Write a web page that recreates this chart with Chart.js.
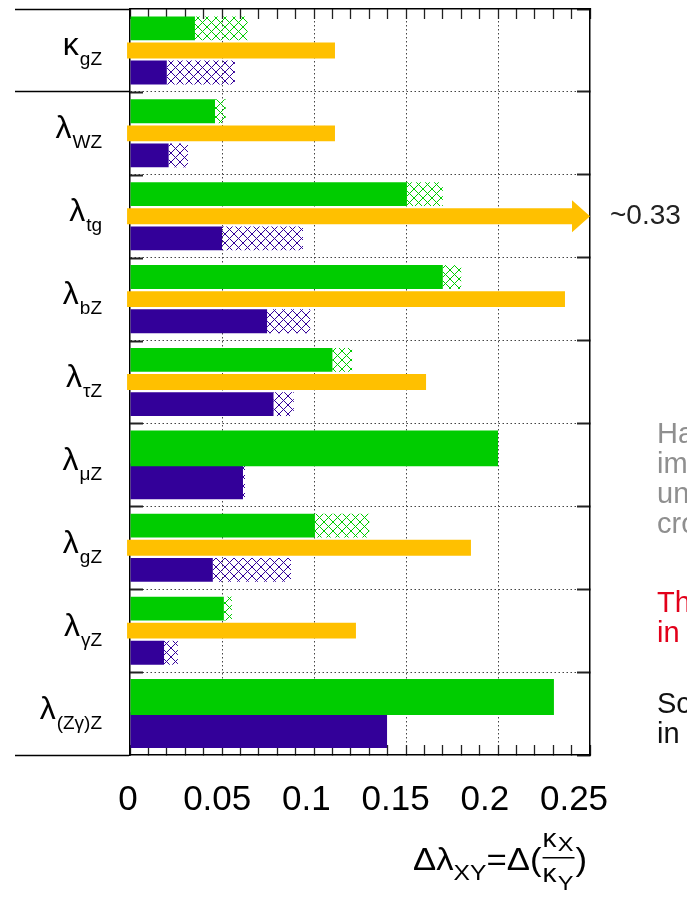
<!DOCTYPE html>
<html>
<head>
<meta charset="utf-8">
<script src="https://cdn.jsdelivr.net/npm/chart.js@4.4.0/dist/chart.umd.min.js"></script>
<style>
  html, body { margin: 0; padding: 0; background: #fff; overflow: hidden; }
  #wrap { position: relative; width: 687px; height: 898px; overflow: hidden; }
  #chart { display: block; }
  .note { position: absolute; left: 657px; font-family: 'Liberation Sans', Arial, sans-serif;
          font-size: 29px; line-height: 30px; white-space: nowrap; }
</style>
</head>
<body>
<div id="wrap">
  <canvas id="chart" width="687" height="898"></canvas>
  <div class="note" style="top: 418px; color: #8f8f8f;">Having<br>improved<br>uncertainties<br>cross sections</div>
  <div class="note" style="top: 587px; color: #e2001a;">The<br>in some</div>
  <div class="note" style="top: 688px; color: #111;">Scale<br>in ratios</div>
</div>
<script>
const categories = ['κgZ', 'λWZ', 'λtg', 'λbZ', 'λτZ', 'λμZ', 'λgZ', 'λγZ', 'λ(Zγ)Z'];
const labelMain = ['κ', 'λ', 'λ', 'λ', 'λ', 'λ', 'λ', 'λ', 'λ'];
const labelSub = ['gZ', 'WZ', 'tg', 'bZ', 'τZ', 'μZ', 'gZ', 'γZ', '(Zγ)Z'];

// green: solid part and full length (hatched up to full)
const greenSolid = [0.0353, 0.0462, 0.1505, 0.170, 0.110, 0.200, 0.1005, 0.051, 0.2304];
const greenFull = [0.064, 0.052, 0.170, 0.180, 0.1207, 0.200, 0.130, 0.0554, 0.2304];
// orange: one value per row, null where there is no bar
const orangeVals = [0.1114, 0.1114, 0.33, 0.2364, 0.1609, null, 0.1853, 0.1228, null];
// purple: solid part and full length
const purpleSolid = [0.020, 0.021, 0.050, 0.0745, 0.078, 0.0614, 0.045, 0.0185, 0.1397];
const purpleFull = [0.057, 0.0315, 0.094, 0.098, 0.089, 0.0625, 0.0875, 0.026, 0.1397];

const xMajorTicks = [0, 0.05, 0.1, 0.15, 0.2, 0.25];
const xTickLabels = ['0', '0.05', '0.1', '0.15', '0.2', '0.25'];
const xMinorTicks = [0, 0.01, 0.02, 0.03, 0.04, 0.05, 0.06, 0.07, 0.08, 0.09, 0.1, 0.11, 0.12,
  0.13, 0.14, 0.15, 0.16, 0.17, 0.18, 0.19, 0.2, 0.21, 0.22, 0.23, 0.24, 0.25];
const arrowLabel = '~0.33';

const FONT = "'Liberation Sans', Arial, Helvetica, sans-serif";
const GREEN = '#00cc00', ORANGE = '#ffc000', PURPLE = '#330099';

function hatch(color) {
  const s = 9;
  const c = document.createElement('canvas');
  c.width = s; c.height = s;
  const g = c.getContext('2d');
  g.strokeStyle = color;
  g.lineWidth = 1;
  g.beginPath();
  for (let k = -1; k <= 1; k++) {
    g.moveTo(k * s - 1, -1); g.lineTo(k * s + s + 1, s + 1);
    g.moveTo(k * s + s + 1, -1); g.lineTo(k * s - 1, s + 1);
  }
  g.stroke();
  return g.createPattern(c, 'repeat');
}

const rowLabels = {
  id: 'rowLabels',
  afterDraw(chart) {
    const ctx = chart.ctx, y = chart.scales.y, area = chart.chartArea;
    ctx.save();
    // short ticks inside the left axis at row boundaries
    ctx.strokeStyle = '#222';
    ctx.lineWidth = 2;
    for (let i = 1; i < categories.length; i++) {
      const py = Math.round((y.getPixelForValue(i - 1) + y.getPixelForValue(i)) / 2) + 0.5;
      ctx.beginPath();
      ctx.moveTo(area.left, py);
      ctx.lineTo(area.left + 13, py);
      ctx.stroke();
    }
    ctx.fillStyle = '#000';
    ctx.textBaseline = 'alphabetic';
    categories.forEach((c, i) => {
      const py = y.getPixelForValue(i);
      ctx.font = '32px ' + FONT;
      const wm = ctx.measureText(labelMain[i]).width;
      ctx.font = '19px ' + FONT;
      const ws = ctx.measureText(labelSub[i]).width;
      const x0 = 102 - ws - wm - 1;
      ctx.font = '32px ' + FONT;
      ctx.fillText(labelMain[i], x0, py + 5);
      ctx.font = '19px ' + FONT;
      ctx.fillText(labelSub[i], x0 + wm + 1, py + 15);
    });

    // axis title: Δλ_XY = Δ(κ_X / κ_Y), stretched a little to the reference width
    ctx.translate(413, 0);
    ctx.scale(1.12, 1);
    let x = 0;
    const base = 870;
    const part = (txt, size, dy) => {
      ctx.font = size + 'px ' + FONT;
      ctx.fillText(txt, x, base + dy);
      x += ctx.measureText(txt).width;
    };
    part('Δλ', 31, 0);
    part('XY', 22, 10);
    part('=Δ(', 31, 0);
    const fx = x + 1;
    ctx.font = '25px ' + FONT;
    const wk = ctx.measureText('κ').width;
    ctx.font = '21px ' + FONT;
    const wx = ctx.measureText('X').width;
    ctx.font = '25px ' + FONT;
    ctx.fillText('κ', fx, 847);
    ctx.fillText('κ', fx, 882);
    ctx.font = '21px ' + FONT;
    ctx.fillText('X', fx + wk + 1, 851);
    ctx.fillText('Y', fx + wk + 1, 890);
    ctx.fillRect(fx, 857, wk + wx + 2, 1.5);
    x = fx + wk + wx + 3;
    part(')', 31, 0);
    ctx.restore();
  }
};

const arrowHead = {
  id: 'arrowHead',
  afterDatasetsDraw(chart) {
    const ctx = chart.ctx, area = chart.chartArea, xs = chart.scales.x;
    const meta = chart.getDatasetMeta(2);
    ctx.save();
    meta.data.forEach((bar, i) => {
      if (orangeVals[i] !== null && orangeVals[i] > xs.max) {
        ctx.fillStyle = ORANGE;
        ctx.beginPath();
        ctx.moveTo(area.right - 18, bar.y - 16);
        ctx.lineTo(area.right, bar.y);
        ctx.lineTo(area.right - 18, bar.y + 16);
        ctx.closePath();
        ctx.fill();
        ctx.fillStyle = '#222';
        ctx.font = '28px ' + FONT;
        ctx.textBaseline = 'middle';
        ctx.fillText(arrowLabel, area.right + 20, bar.y);
      }
    });
    ctx.restore();
  }
};

const common = { skipNull: true, categoryPercentage: 0.8, xAxisID: 'x', yAxisID: 'y', borderWidth: 0 };

new Chart(document.getElementById('chart'), {
  type: 'bar',
  data: {
    labels: categories,
    datasets: [
      { ...common, label: 'green', data: greenSolid, stack: 'g', backgroundColor: GREEN, barPercentage: 1.08 },
      { ...common, label: 'green hatched', data: greenFull.map((v, i) => +(v - greenSolid[i]).toFixed(4)),
        stack: 'g', backgroundColor: hatch(GREEN), barPercentage: 1.08 },
      { ...common, label: 'orange', data: orangeVals, stack: 'o', backgroundColor: ORANGE,
        barPercentage: 0.72, base: -0.0016, clip: { left: 5, right: -18, top: 0, bottom: 0 } },
      { ...common, label: 'purple', data: purpleSolid, stack: 'p', backgroundColor: PURPLE, barPercentage: 1.08 },
      { ...common, label: 'purple hatched', data: purpleFull.map((v, i) => +(v - purpleSolid[i]).toFixed(4)),
        stack: 'p', backgroundColor: hatch(PURPLE), barPercentage: 1.08 }
    ]
  },
  options: {
    indexAxis: 'y',
    responsive: false,
    devicePixelRatio: 1,
    animation: false,
    layout: { padding: 0 },
    plugins: { legend: { display: false }, tooltip: { enabled: false } },
    scales: {
      x: {
        type: 'linear', position: 'bottom', min: 0, max: 0.25, weight: 0,
        afterBuildTicks: s => { s.ticks = xMinorTicks.map(v => ({ value: v })); },
        afterFit: s => { s.height = 0; },
        ticks: { display: false },
        grid: {
          color: c => {
            const k = c.tick ? Math.round(c.tick.value * 100) : -1;
            return (k > 0 && k < 25 && k % 5 === 0) ? '#444' : 'rgba(0,0,0,0)';
          },
          lineWidth: 1, drawTicks: true, tickLength: -10, tickColor: '#222', tickWidth: 1.3
        },
        border: { display: true, color: '#000', width: 1.5, dash: [1.5, 2.5] }
      },
      x2: {
        type: 'linear', position: 'bottom', min: 0.001121, max: 0.25897, weight: 1,
        afterBuildTicks: s => { s.ticks = xMajorTicks.map(v => ({ value: v })); },
        afterFit: s => { s.height = 143; },
        ticks: {
          autoSkip: false, maxRotation: 0, padding: 24, color: '#000',
          font: { family: FONT, size: 35 },
          callback: (v, i) => xTickLabels[i]
        },
        grid: { display: false, drawTicks: false },
        border: { display: false }
      },
      xTop: {
        type: 'linear', position: 'top', min: 0, max: 0.25,
        afterBuildTicks: s => { s.ticks = xMinorTicks.map(v => ({ value: v })); },
        afterFit: s => { s.height = 9; },
        ticks: { display: false },
        grid: { drawOnChartArea: false, drawTicks: true, tickLength: -10, tickColor: '#222', tickWidth: 1.3 },
        border: { display: true, color: '#000', width: 1.5 }
      },
      y: {
        type: 'category', position: 'left', offset: true,
        afterFit: s => { s.width = 130; },
        ticks: { display: false },
        grid: {
          offset: true,
          color: c => (c.index === undefined || c.index === 0) ? 'rgba(0,0,0,0)' : '#444',
          lineWidth: 1, drawTicks: true, tickLength: 115, tickWidth: 1.5,
          tickColor: c => (c.index === undefined || c.index === 0 || c.index === 1) ? '#000' : 'rgba(0,0,0,0)'
        },
        border: { display: true, color: '#000', width: 1.5, dash: [1.5, 2.5] }
      },
      yR: {
        type: 'category', position: 'right', offset: true,
        afterFit: s => { s.width = 97; },
        ticks: { display: false },
        grid: { offset: true, drawOnChartArea: false, drawTicks: true, tickLength: -13, tickColor: '#222', tickWidth: 2 },
        border: { display: true, color: '#000', width: 1.5 }
      }
    }
  },
  plugins: [arrowHead, rowLabels]
});
</script>
</body>
</html>
